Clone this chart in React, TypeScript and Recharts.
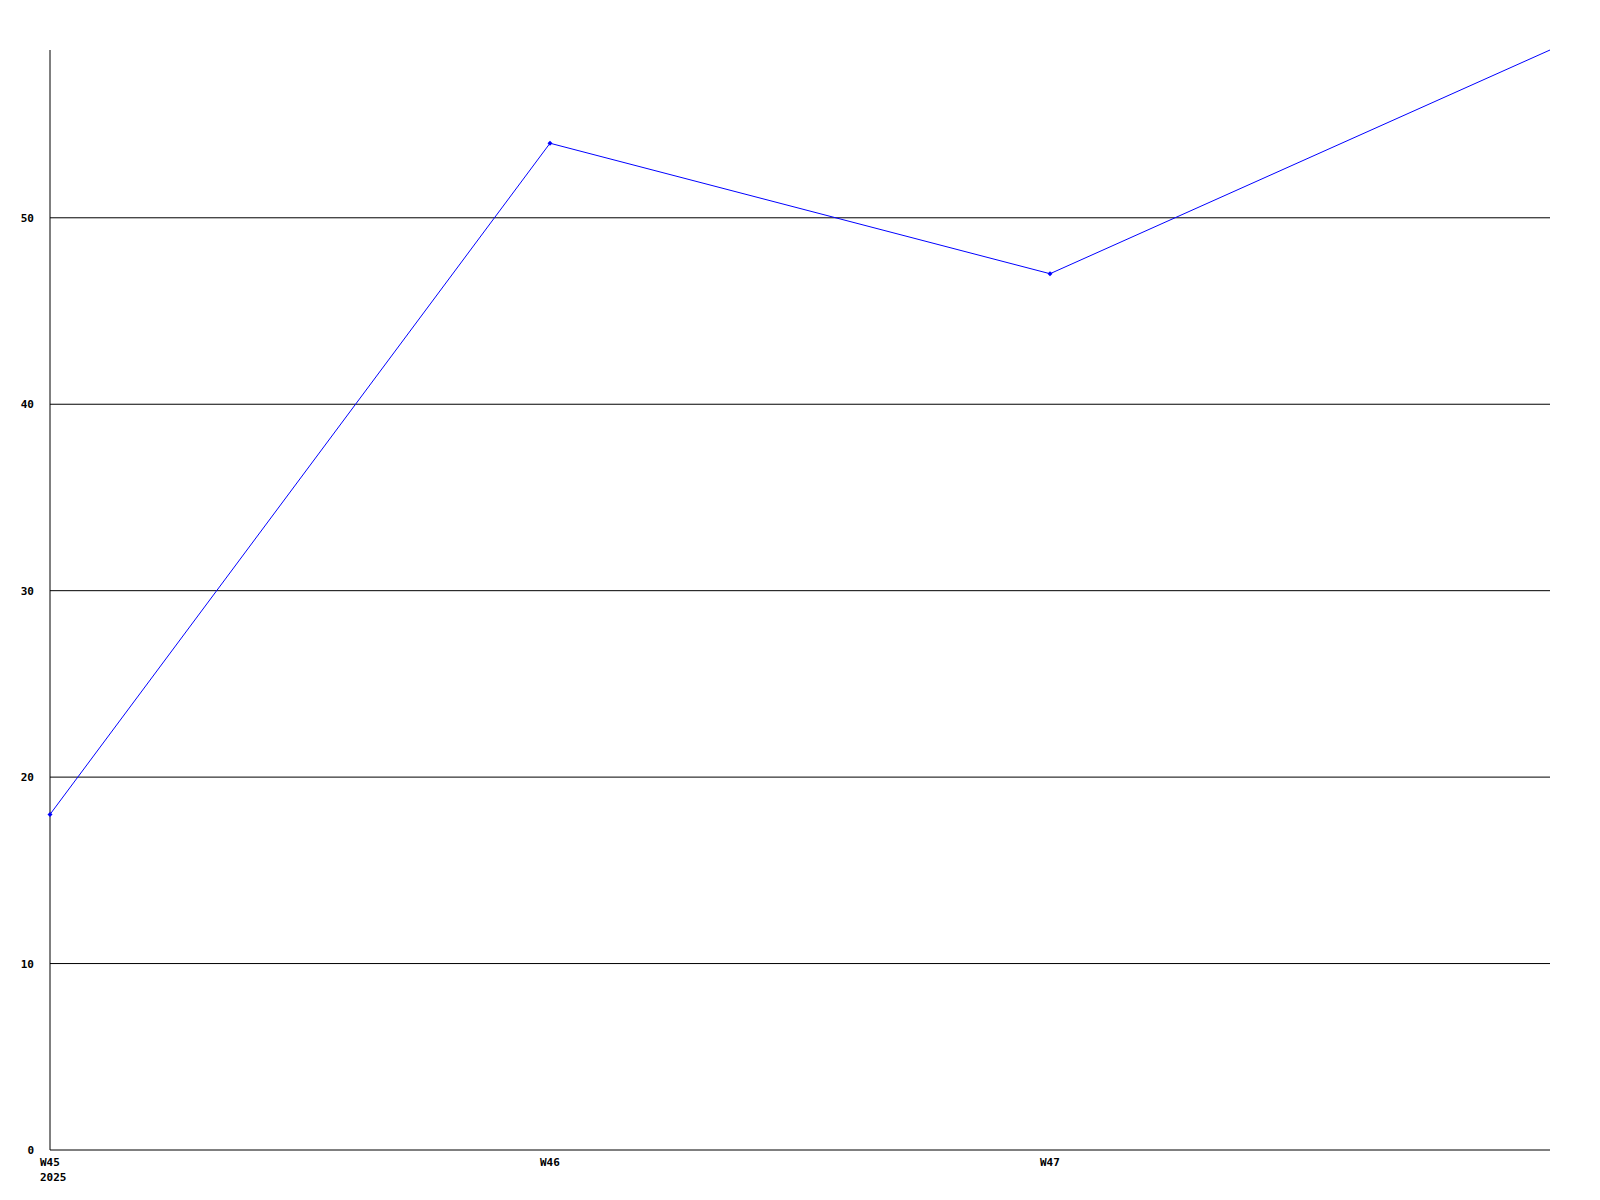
import React from 'react';
import { LineChart, Line, XAxis, YAxis, CartesianGrid } from 'recharts';

const categories = ['W45', 'W46', 'W47', 'W48'];
const values = [18, 54, 47, 59];
const xTickLabels = [['W45', '2025'], ['W46'], ['W47'], []];
const yTicks = [0, 10, 20, 30, 40, 50];
const gridValues = [10, 20, 30, 40, 50];

const data = categories.map((c, i) => ({ week: c, value: values[i] }));

const FONT = '"DejaVu Sans Mono", monospace';

const XTick = (props: any) => {
  const { x, y, index } = props;
  const lines = xTickLabels[index] || [];
  return (
    <g>
      {lines.map((t: string, i: number) => (
        <text key={i} x={x - 10} y={y + 8 + i * 15} fontFamily={FONT} fontWeight="bold" fontSize={11} fill="#000" textAnchor="start">
          {t}
        </text>
      ))}
    </g>
  );
};

const YTick = (props: any) => {
  const { y, payload } = props;
  return (
    <text x={34} y={y + 4} fontFamily={FONT} fontWeight="bold" fontSize={11} fill="#000" textAnchor="end">
      {payload.value}
    </text>
  );
};

const Dot = (props: any) => {
  const { cx, cy, index } = props;
  if (cx == null || cy == null || index === values.length - 1) return <g key={`d${index}`} />;
  return <path key={`d${index}`} d={`M${cx - 2.5},${cy} L${cx},${cy - 2.5} L${cx + 2.5},${cy} L${cx},${cy + 2.5} Z`} fill="#0000ff" stroke="none" />;
};

export default function App() {
  return (
    <div style={{ position: 'absolute', left: 0, top: 0, width: 1600, height: 1200, background: '#fff' }}>
      <LineChart width={1600} height={1200} data={data} margin={{ top: 50, right: 50, bottom: 0, left: 0 }}>
        <CartesianGrid vertical={false} stroke="#000" strokeWidth={1} horizontalValues={gridValues} />
        <XAxis
          dataKey="week"
          height={50}
          axisLine={{ stroke: '#000', strokeWidth: 1 }}
          tickLine={false}
          tick={<XTick />}
          interval={0}
        />
        <YAxis
          width={50}
          domain={[0, 59]}
          ticks={yTicks}
          axisLine={{ stroke: '#000', strokeWidth: 1 }}
          tickLine={false}
          tick={<YTick />}
          interval={0}
        />
        <Line
          type="linear"
          dataKey="value"
          stroke="#0000ff"
          strokeWidth={1}
          dot={<Dot />}
          activeDot={false}
          isAnimationActive={false}
        />
      </LineChart>
    </div>
  );
}
